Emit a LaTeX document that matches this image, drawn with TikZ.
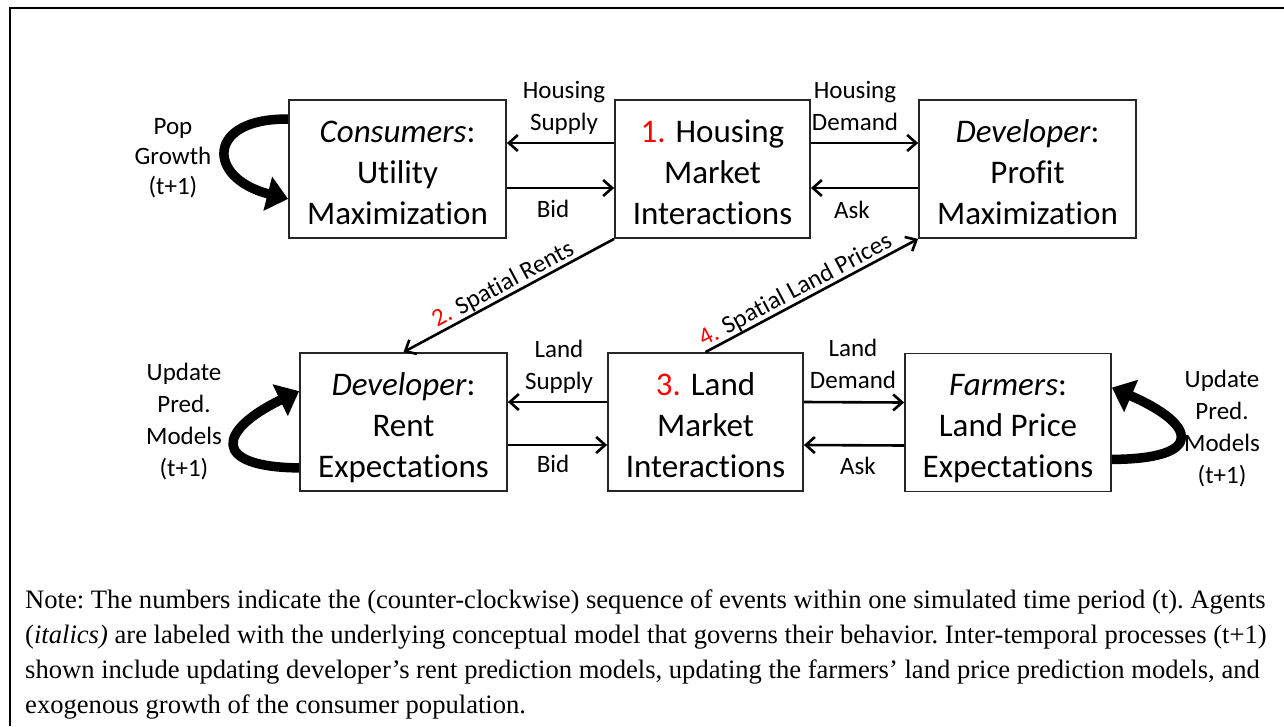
\documentclass[tikz,border=0pt]{standalone}
\usepackage{fontspec}
\setmainfont{Liberation Serif}
\newfontfamily\diagfont[Ligatures=NoCommon]{Carlito}
\usetikzlibrary{arrows.meta}
\definecolor{numred}{RGB}{255,0,0}
% fixed-height strut that opens the first line of every box
\newcommand\boxopen{\rule{0pt}{36pt}}
\begin{document}
\begin{tikzpicture}[x=1pt,y=-1pt,
  agent/.style={draw=black!85, line width=1.8pt, inner sep=0pt, align=center,
    minimum height=138pt, font=\diagfont\fontsize{33}{41}\selectfont,
    execute at end node=\rule[-8pt]{0pt}{8pt}},
  lab/.style={align=center, inner sep=0pt, font=\diagfont\fontsize{25}{32}\selectfont,
    execute at begin node=\rule{0pt}{20pt},
    execute at end node=\rule[-7pt]{0pt}{7pt}},
  diaglab/.style={inner sep=0pt, sloped, above, font=\diagfont\fontsize{25}{30}\selectfont},
  flow/.style={line width=2.6pt, -{Straight Barb[length=9pt,width=16pt]}},
  loopy/.style={line width=9.5pt, -{Triangle[length=21pt,width=34pt]}},
  outline/.style={line width=2.6pt},
  note/.style={inner sep=0pt, align=left, anchor=north west,
    font=\fontsize{26.6}{35}\selectfont\frenchspacing}
]
\useasboundingbox (0,0) rectangle (1284,726);

% outer frame (top and left rules)
\draw[outline] (1284,8) -- (10,8) -- (10,726);

% agents and markets
\node[agent, minimum width=217pt] (cons) at (397.5,169) {\boxopen\textit{Consumers}:\\Utility\\Maximization};
\node[agent, minimum width=195pt] (hm)   at (712.5,169) {\boxopen\textcolor{numred}{1.} Housing\\Market\\Interactions};
\node[agent, minimum width=217pt] (devp) at (1027.5,169) {\boxopen\textit{Developer}:\\Profit\\Maximization};
\node[agent, minimum width=207pt] (devr) at (403.5,422) {\boxopen\textit{Developer}:\\Rent\\Expectations};
\node[agent, minimum width=195pt] (land) at (705.5,422) {\boxopen\textcolor{numred}{3.} Land\\Market\\Interactions};
\node[agent, minimum width=206pt] (farm) at (1008,422.5) {\boxopen\textit{Farmers}:\\Land Price\\Expectations};

% housing market exchanges
\draw[flow] ([yshift=26pt]hm.west) -- ([yshift=26pt]cons.east);
\draw[flow] ([yshift=-19pt]cons.east) -- ([yshift=-19pt]hm.west);
\draw[flow] ([yshift=26pt]hm.east) -- ([yshift=26pt]devp.west);
\draw[flow] ([yshift=-19pt]devp.west) -- ([yshift=-19pt]hm.east);
\node[lab] (hsup) at (564,109) {Housing\\Supply};
\node[lab] (hbid) at (553,210.5) {Bid};
\node[lab] (hdem) at (855,109) {Housing\\Demand};
\node[lab] (hask) at (852,211.5) {Ask};

% land market exchanges
\draw[flow] ([yshift=20pt]land.west) -- ([yshift=20pt]devr.east);
\draw[flow] ([yshift=-23pt]devr.east) -- ([yshift=-23pt]land.west);
\draw[flow] ([yshift=20pt]land.east) -- ([yshift=20pt]farm.west);
\draw[flow] ([yshift=-23pt]farm.west) -- ([yshift=-23pt]land.east);
\node[lab] (lsup) at (559,368) {Land\\Supply};
\node[lab] (lbid) at (553,465.5) {Bid};
\node[lab] (ldem) at (853,367) {Land\\Demand};
\node[lab] (lask) at (858,467.5) {Ask};

% price signals between the two markets
\draw[flow] (hm.south west) -- node[diaglab, pos=0.5] (rents) {\textcolor{numred}{2.} Spatial Rents} (devr.north);
\draw[flow] (land.north) -- node[diaglab, pos=0.45] (prices) {\textcolor{numred}{4.} Spatial Land Prices} (devp.south west);

% inter-temporal updates
\draw[loopy] ([yshift=-20pt]cons.north west) .. controls (206,118) and (206,178) .. ([yshift=40pt]cons.south west);
\node[lab, font=\diagfont\fontsize{25}{30}\selectfont] (pop) at (173,159.5) {Pop\\Growth\\(t+1)};

\draw[loopy] ([yshift=24pt]devr.south west) .. controls (210,467) and (218,430) .. ([yshift=-39pt]devr.north west);
\node[lab] (updl) at (184,423.5) {Update\\Pred.\\Models\\(t+1)};

\draw[loopy] ([yshift=33pt]farm.south east) .. controls (1205,459) and (1198,425) .. ([yshift=-35pt]farm.north east);
\node[lab] (updr) at (1222,430.5) {Update\\Pred.\\Models\\(t+1)};

% explanatory note
\node[note] (txt) at (25,590) {Note: The numbers indicate the (counter-clockwise) sequence of events within one simulated time period (t). Agents\\
(\textit{italics)} are labeled with the underlying conceptual model that governs their behavior. Inter-temporal processes (t+1)\\
shown include updating developer's rent prediction models, updating the farmers' land price prediction models, and\\
exogenous growth of the consumer population.};
\end{tikzpicture}
\end{document}
